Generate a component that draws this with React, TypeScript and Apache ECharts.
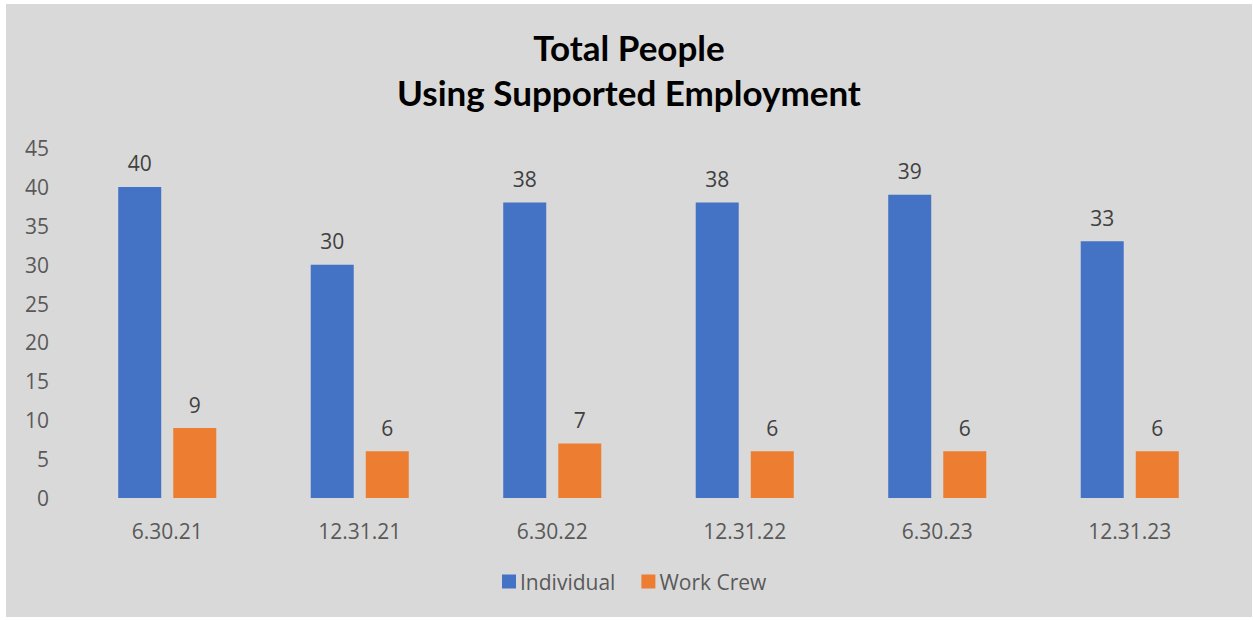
import React, { useEffect, useRef } from "react";
import * as echarts from "echarts";

const categories = ["6.30.21", "12.31.21", "6.30.22", "12.31.22", "6.30.23", "12.31.23"];
const individual = [40, 30, 38, 38, 39, 33];
const workCrew = [9, 6, 7, 6, 6, 6];
const titleText = "Total People\nUsing Supported Employment";

const FONT = "'Open Sans', 'Noto Sans', sans-serif";

export default function App() {
  const ref = useRef<HTMLDivElement>(null);
  useEffect(() => {
    if (!ref.current) return;
    const chart = echarts.init(ref.current, null, { renderer: "svg" });
    const labelStyle = {
      show: true,
      position: "top" as const,
      distance: 13,
      fontSize: 21,
      color: "#404040",
      fontFamily: FONT,
    };
    chart.setOption({
      animation: false,
      backgroundColor: "#d9d9d9",
      title: {
        text: titleText,
        left: "center",
        top: 15,
        textStyle: {
          fontFamily: "Lato, 'Open Sans', sans-serif",
          fontWeight: "bold",
          fontSize: 35,
          lineHeight: 45,
          color: "#000000",
        },
      },
      legend: {
        bottom: 20,
        left: 491,
        itemWidth: 14,
        itemHeight: 14,
        itemGap: 26,
        icon: "rect",
        textStyle: { fontSize: 21, color: "#595959", fontFamily: FONT, padding: [0, 0, 0, -1] },
        data: ["Individual", "Work Crew"],
      },
      grid: { left: 65, right: 26, top: 144, bottom: 119 },
      xAxis: {
        type: "category",
        data: categories,
        axisLine: { show: false },
        axisTick: { show: false },
        axisLabel: { fontSize: 21, color: "#595959", fontFamily: FONT, margin: 22 },
      },
      yAxis: {
        type: "value",
        min: 0,
        max: 45,
        interval: 5,
        splitLine: { show: false },
        axisLine: { show: false },
        axisTick: { show: false },
        axisLabel: { fontSize: 21, color: "#595959", fontFamily: FONT, margin: 22 },
      },
      series: [
        {
          name: "Individual",
          type: "bar",
          data: individual,
          barWidth: 43,
          barGap: "28%",
          itemStyle: { color: "#4472c4" },
          label: labelStyle,
        },
        {
          name: "Work Crew",
          type: "bar",
          data: workCrew,
          barWidth: 43,
          itemStyle: { color: "#ed7d31" },
          label: labelStyle,
        },
      ],
    });
    return () => chart.dispose();
  }, []);
  return (
    <div style={{ position: "fixed", left: 0, top: 0, width: 1253, height: 620, background: "#ffffff" }}>
      <div ref={ref} style={{ position: "absolute", left: 6, top: 4, width: 1246, height: 613 }} />
    </div>
  );
}
